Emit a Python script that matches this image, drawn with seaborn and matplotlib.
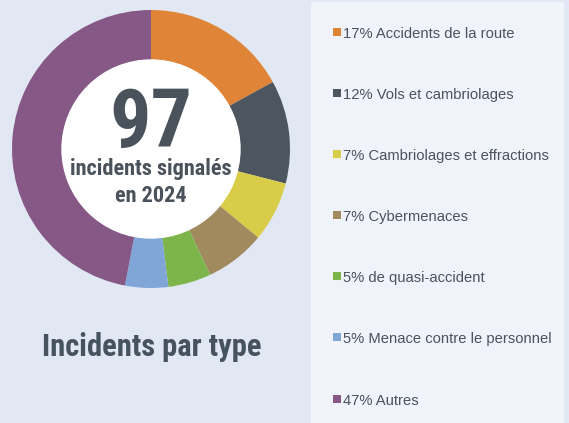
import matplotlib
matplotlib.use("Agg")
import matplotlib.pyplot as plt
import seaborn as sns
from matplotlib.patches import Rectangle

categories = ["Accidents de la route", "Vols et cambriolages", "Cambriolages et effractions",
              "Cybermenaces", "de quasi-accident", "Menace contre le personnel", "Autres"]
percent = [17, 12, 7, 7, 5, 5, 47]
colors = ["#E08537", "#4D555E", "#D9CC48", "#A08A5E", "#7DB54A", "#7FA6D6", "#865886"]
total = "97"
center_lines = ["incidents signalés", "en 2024"]
title = "Incidents par type"

sns.set_theme(style="white")
plt.rcParams['font.family'] = ['Roboto Condensed', 'DejaVu Sans']
legend_font = ['Liberation Sans', 'DejaVu Sans']

W, H = 569, 423
fig = plt.figure(figsize=(W / 100, H / 100), dpi=100)
fig.patch.set_facecolor("#E1E8F4")

# right panel
fig.patches.append(Rectangle((311 / W, 0), (564 - 311) / W, 1 - 2 / H,
                             transform=fig.transFigure, facecolor="#F0F4FA",
                             edgecolor="none", zorder=0))

cx, cy, R = 151, 149, 139
half = 142
ax = fig.add_axes([(cx - half) / W, (H - cy - half) / H, 2 * half / W, 2 * half / H])
ax.set_facecolor("none")
ax.pie(percent, colors=colors, startangle=90, counterclock=False, radius=1,
       wedgeprops=dict(width=50 / R, edgecolor="none"))
ax.add_patch(plt.Circle((0, 0), 89 / R, color="white", zorder=3))
lim = half / R
ax.set_xlim(-lim, lim)
ax.set_ylim(-lim, lim)
ax.set_aspect("equal")
ax.axis("off")

txtc = "#4A525C"
fig.text(cx / W, 1 - 147 / H, total, ha="center", va="baseline", fontsize=59,
         fontweight="bold", color=txtc)
fig.text(cx / W, 1 - 175 / H, center_lines[0], ha="center", va="baseline", fontsize=16,
         fontweight="bold", color=txtc)
fig.text(cx / W, 1 - 202 / H, center_lines[1], ha="center", va="baseline", fontsize=16,
         fontweight="bold", color=txtc)

fig.text(152 / W, 1 - 356 / H, title, ha="center", va="baseline", fontsize=22,
         fontweight="bold", color="#46535E")

ys = [32, 93, 154, 215, 276, 337, 399]
for y, p, c, col in zip(ys, percent, categories, colors):
    fig.patches.append(Rectangle((333 / W, 1 - (y + 4) / H), 8 / W, 8 / H,
                                 transform=fig.transFigure, facecolor=col,
                                 edgecolor="none", zorder=2))
    fig.text(343 / W, 1 - (y + 5.5) / H, f"{p}% {c}", ha="left", va="baseline",
             fontsize=10.6, color=txtc, family=legend_font)

fig.savefig("out.png", dpi=100, facecolor=fig.get_facecolor())
